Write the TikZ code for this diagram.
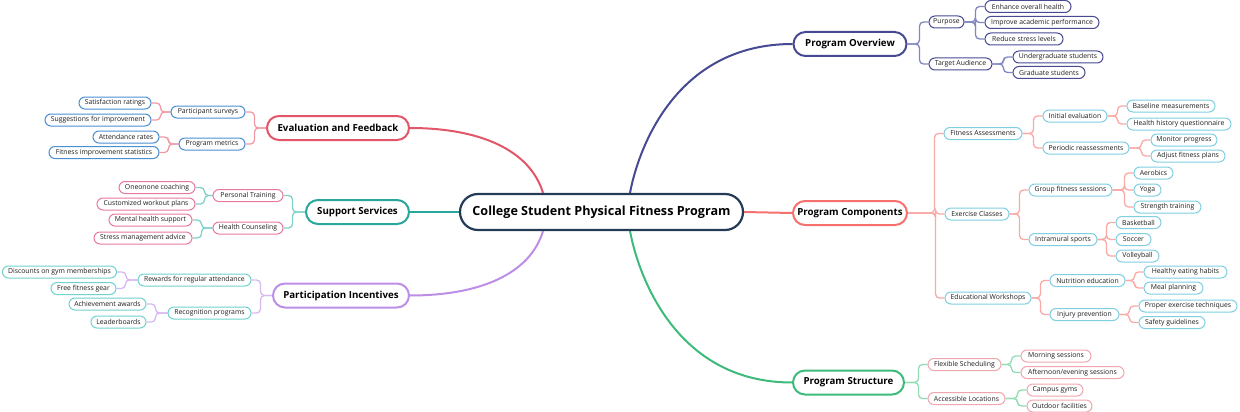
\documentclass[tikz,border=0pt]{standalone}
\usepackage{fontspec}
\setmainfont{Open Sans}
\usetikzlibrary{shapes.misc,backgrounds}
\definecolor{rootc}{HTML}{243B55}
\definecolor{ovc}{HTML}{474A92}
\definecolor{ovl}{HTML}{8288BE}
\definecolor{pcc}{HTML}{F6716D}
\definecolor{pcl}{HTML}{F9A9A6}
\definecolor{pcn}{HTML}{7FCFE3}
\definecolor{psc}{HTML}{3DBB7B}
\definecolor{psl}{HTML}{92DCB4}
\definecolor{psn}{HTML}{F0A6AF}
\definecolor{efc}{HTML}{E3566A}
\definecolor{efl}{HTML}{F09AA6}
\definecolor{efn}{HTML}{4B8FD3}
\definecolor{ssc}{HTML}{2AA79C}
\definecolor{ssl}{HTML}{7FD3CB}
\definecolor{ssn}{HTML}{E9789F}
\definecolor{pic}{HTML}{BD8EE6}
\definecolor{pil}{HTML}{D8B8F3}
\definecolor{pin}{HTML}{6FD3CF}
\definecolor{txt}{HTML}{1E1E1E}
\tikzset{
  rootbox/.style={draw=rootc, line width=2.2pt, fill=white, rounded rectangle, minimum height=36pt, inner xsep=4pt, text=black, font=\fontsize{12.6}{14}\selectfont\bfseries},
  mainbox/.style={draw=#1, line width=2pt, fill=white, rounded rectangle, minimum height=24pt, inner xsep=4pt, text=black, font=\fontsize{9.7}{11}\selectfont\bfseries},
  leaf/.style={draw=#1, line width=1pt, fill=white, rounded rectangle, minimum height=12pt, inner xsep=1pt, inner ysep=1pt, text=txt, font=\fontsize{6.85}{7.5}\selectfont},
  mainline/.style={draw=#1, line width=2pt},
  subline/.style={draw=#1, line width=1.3pt, rounded corners=4pt},
}
\begin{document}
\begin{tikzpicture}[x=1pt,y=-1pt]
\useasboundingbox (0,0) rectangle (1240,412);
% root
\node[rootbox, minimum width=291pt] (root) at (601.5,212) {College Student Physical Fitness Program};
% ---------------- Program Overview
\node[mainbox=ovc, minimum width=121pt] (PO) at (850,44) {Program Overview};
\node[leaf=ovc, minimum width=37pt] (pur) at (946.5,22) {Purpose};
\node[leaf=ovc, minimum width=65pt] (ta) at (960.5,64) {Target Audience};
\node[leaf=ovc, minimum width=88pt] (eoh) at (1028,6.5) {Enhance overall health};
\node[leaf=ovc, minimum width=116pt] (iap) at (1042,22.5) {Improve academic performance};
\node[leaf=ovc, minimum width=80pt] (rsl) at (1024,39) {Reduce stress levels};
\node[leaf=ovc, minimum width=92pt] (ugs) at (1058,57) {Undergraduate students};
\node[leaf=ovc, minimum width=74pt] (gs) at (1049,72.5) {Graduate students};
% ---------------- Program Components
\node[mainbox=pcc, minimum width=122pt] (PC) at (850,213) {Program Components};
\node[leaf=pcn, minimum width=80pt] (fa) at (983,133.5) {Fitness Assessments};
\node[leaf=pcn, minimum width=66pt] (ec) at (977,214) {Exercise Classes};
\node[leaf=pcn, minimum width=88pt] (ew) at (988,298) {Educational Workshops};
\node[leaf=pcn, minimum width=66pt] (ie) at (1075,116) {Initial evaluation};
\node[leaf=pcn, minimum width=88pt] (pr) at (1086,148) {Periodic reassessments};
\node[leaf=pcn, minimum width=90pt] (bm) at (1171,106) {Baseline measurements};
\node[leaf=pcn, minimum width=106pt] (hhq) at (1179,124) {Health history questionnaire};
\node[leaf=pcn, minimum width=68pt] (mpr) at (1184,140) {Monitor progress};
\node[leaf=pcn, minimum width=76pt] (afp) at (1188,156) {Adjust fitness plans};
\node[leaf=pcn, minimum width=85pt] (gfs) at (1070.5,190) {Group fitness sessions};
\node[leaf=pcn, minimum width=70pt] (ims) at (1063,239.5) {Intramural sports};
\node[leaf=pcn, minimum width=41pt] (aer) at (1153.5,173) {Aerobics};
\node[leaf=pcn, minimum width=29pt] (yoga) at (1147.5,190) {Yoga};
\node[leaf=pcn, minimum width=69pt] (str) at (1167.5,207) {Strength training};
\node[leaf=pcn, minimum width=47pt] (bb) at (1138.5,222.5) {Basketball};
\node[leaf=pcn, minimum width=37pt] (soc) at (1133.5,239.5) {Soccer};
\node[leaf=pcn, minimum width=45pt] (vb) at (1137.5,256) {Volleyball};
\node[leaf=pcn, minimum width=77pt] (ne) at (1087.5,280.5) {Nutrition education};
\node[leaf=pcn, minimum width=71pt] (ip) at (1084.5,314.5) {Injury prevention};
\node[leaf=pcn, minimum width=85pt] (heh) at (1185.5,272) {Healthy eating habits};
\node[leaf=pcn, minimum width=61pt] (mpl) at (1173.5,288) {Meal planning};
\node[leaf=pcn, minimum width=100pt] (pet) at (1188,306) {Proper exercise techniques};
\node[leaf=pcn, minimum width=68pt] (sgl) at (1172,322.5) {Safety guidelines};
% ---------------- Program Structure
\node[mainbox=psc, minimum width=119pt] (PS) at (848.5,382.5) {Program Structure};
\node[leaf=psn, minimum width=75pt] (fs) at (964.5,364.5) {Flexible Scheduling};
\node[leaf=psn, minimum width=79pt] (al) at (966.5,398.5) {Accessible Locations};
\node[leaf=psn, minimum width=72pt] (ms) at (1056,356) {Morning sessions};
\node[leaf=psn, minimum width=105pt] (aes) at (1072.5,372.5) {Afternoon/evening sessions};
\node[leaf=psn, minimum width=58pt] (cg) at (1055,390) {Campus gyms};
\node[leaf=psn, minimum width=67pt] (of) at (1059.5,406) {Outdoor facilities};
% ---------------- Evaluation and Feedback
\node[mainbox=efc, minimum width=150pt] (EF) at (338,128) {Evaluation and Feedback};
\node[leaf=efn, minimum width=76pt] (psv) at (208,112) {Participant surveys};
\node[leaf=efn, minimum width=68pt] (pm) at (212,144) {Program metrics};
\node[leaf=efn, minimum width=74pt] (sr) at (115,103) {Satisfaction ratings};
\node[leaf=efn, minimum width=108pt] (sfi) at (98,120) {Suggestions for improvement};
\node[leaf=efn, minimum width=68pt] (ar) at (126,137) {Attendance rates};
\node[leaf=efn, minimum width=112pt] (fis) at (104,152.5) {Fitness improvement statistics};
% ---------------- Support Services
\node[mainbox=ssc, minimum width=111pt] (SS) at (357.5,212) {Support Services};
\node[leaf=ssn, minimum width=72pt] (pt) at (248,195.5) {Personal Training};
\node[leaf=ssn, minimum width=72pt] (hc) at (248,228) {Health Counseling};
\node[leaf=ssn, minimum width=78pt] (ooc) at (157,187.5) {Oneonone coaching};
\node[leaf=ssn, minimum width=100pt] (cwp) at (146,204) {Customized workout plans};
\node[leaf=ssn, minimum width=85pt] (mhs) at (150.5,220) {Mental health support};
\node[leaf=ssn, minimum width=100pt] (sma) at (143,238) {Stress management advice};
% ---------------- Participation Incentives
\node[mainbox=pic, minimum width=144pt] (PI) at (341,295.5) {Participation Incentives};
\node[leaf=pin, minimum width=115pt] (rra) at (194.5,280) {Rewards for regular attendance};
\node[leaf=pin, minimum width=85pt] (rp) at (209.5,313) {Recognition programs};
\node[leaf=pin, minimum width=116pt] (dgm) at (59.5,272) {Discounts on gym memberships};
\node[leaf=pin, minimum width=67pt] (ffg) at (83.5,288.5) {Free fitness gear};
\node[leaf=pin, minimum width=79pt] (aa) at (107.5,304) {Achievement awards};
\node[leaf=pin, minimum width=57pt] (lb) at (118.5,322) {Leaderboards};
% ---------------- connectors
\begin{scope}[on background layer]
\draw[mainline=ovc] (root.north -| 630,0) .. controls (638,150) and (675,44) .. (PO.west);
\draw[mainline=pcc] (root.east) -- (PC.west);
\draw[mainline=psc] (root.south -| 630,0) .. controls (638,274) and (675,382.5) .. (PS.west);
\draw[mainline=efc] (root.north -| 543,0) .. controls (530,150) and (480,128) .. (EF.east);
\draw[mainline=ssc] (root.west) -- (SS.east);
\draw[mainline=pic] (root.south -| 543,0) .. controls (530,274) and (480,295.5) .. (PI.east);
% overview
\foreach \p/\c in {PO/pur,PO/ta,pur/eoh,pur/iap,pur/rsl,ta/ugs,ta/gs}
  \draw[subline=ovl] (\p.east) -| ([xshift=-9pt]\c.west) -- (\c.west);
% components
\foreach \p/\c in {PC/fa,PC/ec,PC/ew,fa/ie,fa/pr,ie/bm,ie/hhq,pr/mpr,pr/afp,ec/gfs,ec/ims,gfs/aer,gfs/yoga,gfs/str,ims/bb,ims/soc,ims/vb,ew/ne,ew/ip,ne/heh,ne/mpl,ip/pet,ip/sgl}
  \draw[subline=pcl] (\p.east) -| ([xshift=-9pt]\c.west) -- (\c.west);
% structure
\foreach \p/\c in {PS/fs,PS/al,fs/ms,fs/aes,al/cg,al/of}
  \draw[subline=psl] (\p.east) -| ([xshift=-9pt]\c.west) -- (\c.west);
% evaluation
\foreach \p/\c in {EF/psv,EF/pm,psv/sr,psv/sfi,pm/ar,pm/fis}
  \draw[subline=efl] (\p.west) -| ([xshift=9pt]\c.east) -- (\c.east);
% support
\foreach \p/\c in {SS/pt,SS/hc,pt/ooc,pt/cwp,hc/mhs,hc/sma}
  \draw[subline=ssl] (\p.west) -| ([xshift=9pt]\c.east) -- (\c.east);
% participation
\foreach \p/\c in {PI/rra,PI/rp,rra/dgm,rra/ffg,rp/aa,rp/lb}
  \draw[subline=pil] (\p.west) -| ([xshift=9pt]\c.east) -- (\c.east);
\end{scope}
\end{tikzpicture}
\end{document}
